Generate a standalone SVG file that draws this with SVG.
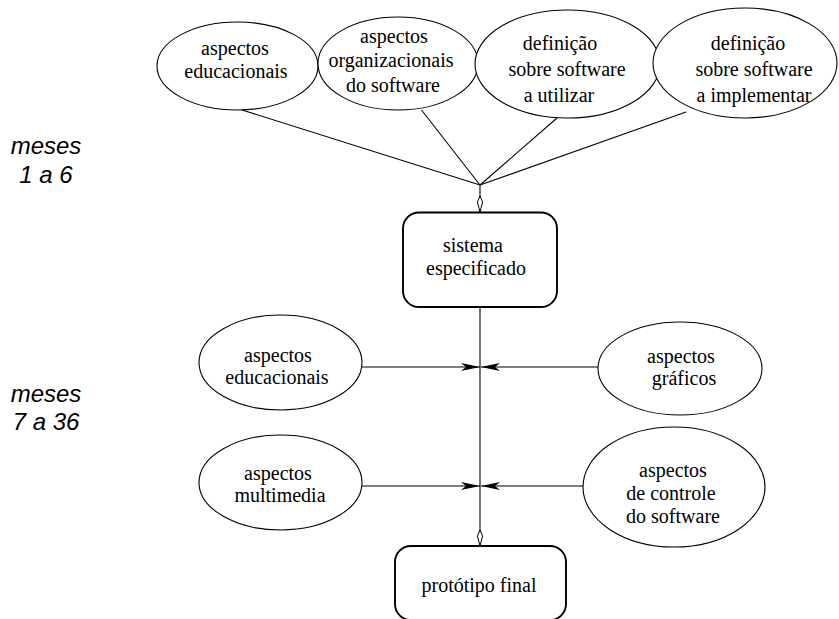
<svg xmlns="http://www.w3.org/2000/svg" width="839" height="619" viewBox="0 0 839 619">
<style>
.n{fill:#fff;stroke:#000;stroke-width:1.1}
.b{fill:#fff;stroke:#000;stroke-width:1.9}
.t{font-family:'Liberation Serif','Times New Roman',serif;font-size:20px;fill:#000;text-anchor:middle}
.m{font-family:'Liberation Sans',Arial,sans-serif;font-size:24px;font-style:italic;fill:#000;text-anchor:middle}
.c{fill:none;stroke:#000;stroke-width:1.1}
</style>
<defs>
<marker id="fa" viewBox="0 -5 19 10" refX="19" refY="0" markerWidth="19" markerHeight="10" markerUnits="userSpaceOnUse" orient="auto">
<path d="M0,-4 L19,0 L0,4 L5,0 Z" fill="#000"/>
</marker>
<marker id="oa" viewBox="-1 -4 18 8" refX="16" refY="0" markerWidth="18" markerHeight="8" markerUnits="userSpaceOnUse" orient="auto">
<path d="M0,0 L6,-2.6 L16,0 L6,2.6 Z" fill="#fff" stroke="#000" stroke-width="1"/>
</marker>
</defs>
<g id="labels">
<text class="m" x="46" y="154">meses</text>
<text class="m" x="46" y="183">1 a 6</text>
<text class="m" x="46" y="402">meses</text>
<text class="m" x="46" y="430">7 a 36</text>
</g>
<g id="connectors">
<line class="c" x1="242" y1="110" x2="480" y2="185"/>
<line class="c" x1="421.5" y1="110" x2="480" y2="185"/>
<line class="c" x1="557" y1="118" x2="480" y2="185"/>
<line class="c" x1="686" y1="112" x2="480" y2="185"/>
<line class="c" x1="480" y1="185" x2="480" y2="212" marker-end="url(#oa)"/>
<line class="c" x1="480" y1="307" x2="480" y2="546" marker-end="url(#oa)"/>
<line class="c" x1="362" y1="367" x2="480" y2="367" marker-end="url(#fa)"/>
<line class="c" x1="598" y1="367" x2="481" y2="367" marker-end="url(#fa)"/>
<line class="c" x1="362" y1="486" x2="480" y2="486" marker-end="url(#fa)"/>
<line class="c" x1="584" y1="486" x2="481" y2="486" marker-end="url(#fa)"/>
</g>
<g id="top-educacionais">
<ellipse class="n" cx="237.5" cy="66" rx="80.5" ry="44"/>
<text class="t" x="235" y="55">aspectos</text>
<text class="t" x="236" y="78">educacionais</text>
</g>
<g id="top-organizacionais">
<ellipse class="n" cx="398" cy="63.5" rx="80" ry="46.5"/>
<text class="t" x="394" y="43">aspectos</text>
<text class="t" x="391" y="67">organizacionais</text>
<text class="t" x="393" y="92">do software</text>
</g>
<g id="top-utilizar">
<ellipse class="n" cx="567.5" cy="64" rx="92.5" ry="54"/>
<text class="t" x="560" y="50">definição</text>
<text class="t" x="567" y="76">sobre software</text>
<text class="t" x="559" y="102">a utilizar</text>
</g>
<g id="top-implementar">
<ellipse class="n" cx="745" cy="63" rx="92" ry="55"/>
<text class="t" x="748" y="50">definição</text>
<text class="t" x="754" y="76">sobre software</text>
<text class="t" x="754" y="102">a implementar</text>
</g>
<g id="sistema-especificado">
<rect class="b" x="403" y="212.5" width="154" height="94.5" rx="16" ry="16"/>
<text class="t" x="473" y="252">sistema</text>
<text class="t" x="476" y="275">especificado</text>
</g>
<g id="mid-educacionais">
<ellipse class="n" cx="280.5" cy="362.5" rx="81.5" ry="47.5"/>
<text class="t" x="278" y="362">aspectos</text>
<text class="t" x="277" y="384">educacionais</text>
</g>
<g id="mid-graficos">
<ellipse class="n" cx="680" cy="368.5" rx="82" ry="46.5"/>
<text class="t" x="681" y="363">aspectos</text>
<text class="t" x="684" y="385">gráficos</text>
</g>
<g id="mid-multimedia">
<ellipse class="n" cx="280.5" cy="482.5" rx="81.5" ry="47.5"/>
<text class="t" x="278" y="480">aspectos</text>
<text class="t" x="280" y="502">multimedia</text>
</g>
<g id="mid-controle">
<ellipse class="n" cx="674" cy="487" rx="91" ry="60"/>
<text class="t" x="673" y="477">aspectos</text>
<text class="t" x="671" y="500">de controle</text>
<text class="t" x="673" y="523">do software</text>
</g>
<g id="prototipo-final">
<rect class="b" x="395" y="546" width="171" height="74" rx="16" ry="16"/>
<text class="t" x="479" y="592">protótipo final</text>
</g>
</svg>
